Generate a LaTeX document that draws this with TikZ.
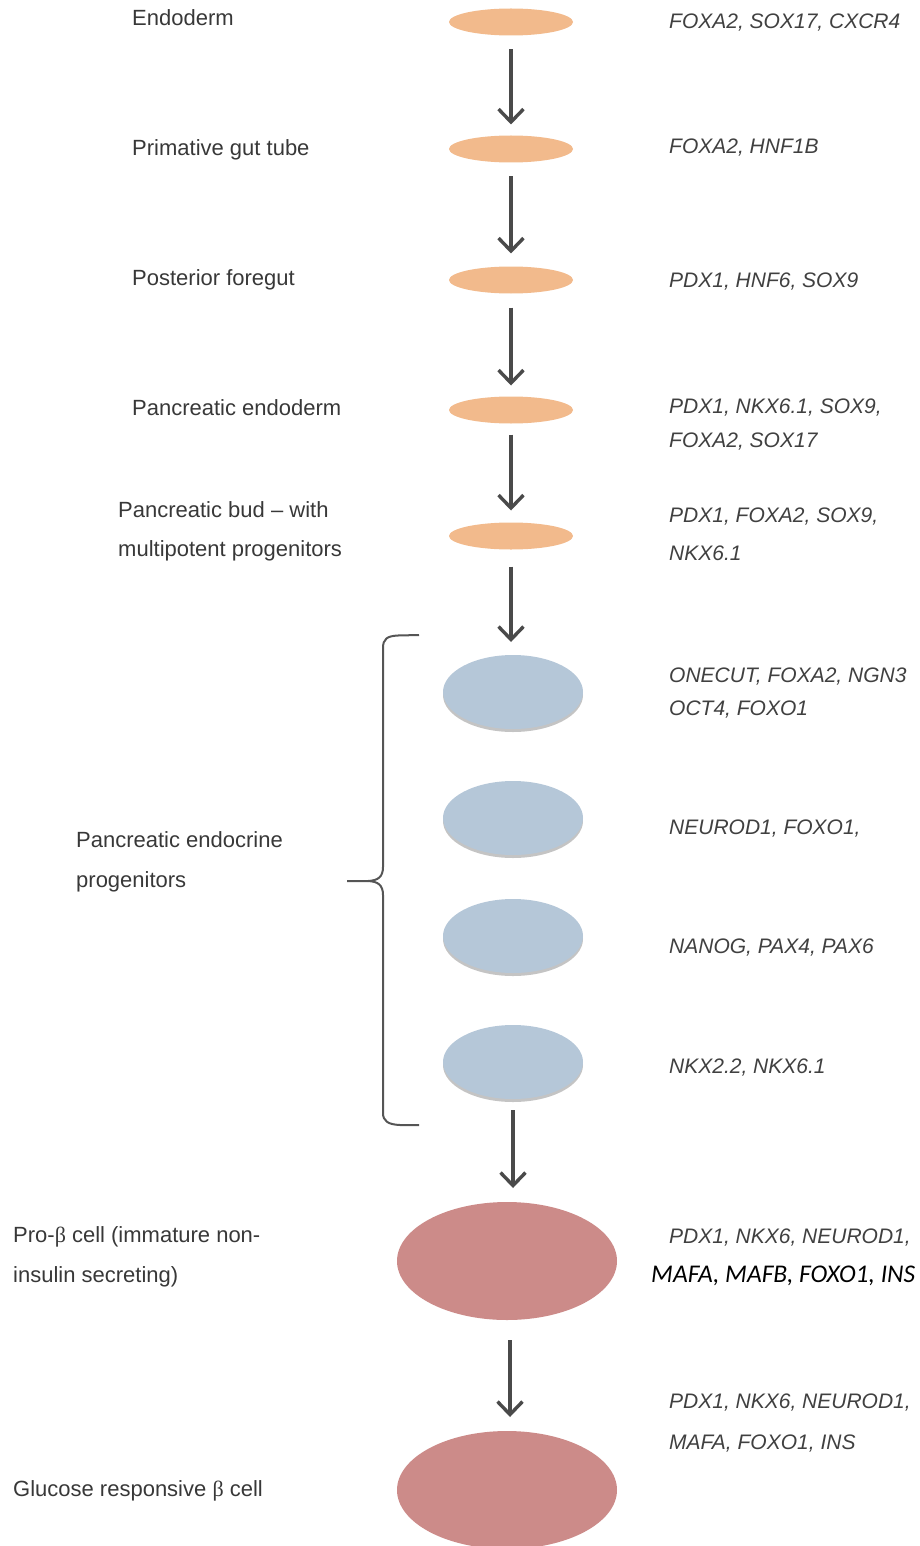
\documentclass[tikz,border=0pt]{standalone}
\usepackage{fontspec}
\setmainfont{Liberation Sans}
\newfontfamily\carl{Carlito}
\newfontfamily\betafont{Liberation Serif}
\usetikzlibrary{arrows.meta,shapes.geometric,shadows}
\definecolor{orangefill}{HTML}{F2BA8C}
\definecolor{bluefill}{HTML}{B5C7D8}
\definecolor{shadowgray}{HTML}{C4C4C4}
\definecolor{redfill}{HTML}{CC8B89}
\definecolor{textgray}{HTML}{383838}
\definecolor{genegray}{HTML}{404040}
\definecolor{arrowgray}{HTML}{4A4A4A}
\definecolor{bracketgray}{HTML}{555555}
\tikzset{
  cellbase/.style={ellipse, inner sep=0pt, outer sep=0pt},
  orangecell/.style={cellbase, fill=orangefill, minimum width=124pt, minimum height=27pt},
  bluecell/.style={cellbase, fill=bluefill, minimum width=140pt, minimum height=74pt,
    drop shadow={shadow xshift=0pt, shadow yshift=-3pt, fill=shadowgray, opacity=1}},
  redcell/.style={cellbase, fill=redfill, minimum width=220pt, minimum height=118pt},
  arr/.style={draw=arrowgray, line width=3.4pt, -{Straight Barb[length=13pt,width=25pt]}},
  lab/.style={anchor=base west, inner sep=0pt, text=textgray, font=\fontsize{22}{26}\selectfont},
  gene/.style={anchor=base west, inner sep=0pt, text=genegray, font=\fontsize{21}{25}\selectfont\itshape},
  genecal/.style={anchor=base west, inner sep=0pt, text=black, font=\carl\itshape\fontsize{25.5}{29}\selectfont},
  bracketline/.style={draw=bracketgray, line width=2pt}
}
\newcommand{\bet}{{\betafont β}}
\begin{document}
\begin{tikzpicture}[x=1pt,y=-1pt]
\useasboundingbox (0,0) rectangle (920,1546);
% cells
\node[orangecell] (e1) at (511,22) {};
\node[orangecell] (e2) at (511,149) {};
\node[orangecell] (e3) at (511,280) {};
\node[orangecell] (e4) at (511,410) {};
\node[orangecell] (e5) at (511,536) {};
\node[bluecell] (b1) at (513,692) {};
\node[bluecell] (b2) at (513,818) {};
\node[bluecell] (b3) at (513,936) {};
\node[bluecell] (b4) at (513,1062) {};
\node[redcell] (r1) at (507,1261) {};
\node[redcell] (r2) at (507,1490) {};
% arrows
\draw[arr] ([yshift=-14pt]e1.south) -- ([yshift=11pt]e2.north);
\draw[arr] ([yshift=-14pt]e2.south) -- ([yshift=13pt]e3.north);
\draw[arr] ([yshift=-14pt]e3.south) -- ([yshift=11pt]e4.north);
\draw[arr] ([yshift=-11pt]e4.south) -- ([yshift=12pt]e5.north);
\draw[arr] ([yshift=-17pt]e5.south) -- ([yshift=13pt]e5.south |- b1.north);
\draw[arr] ([yshift=-11pt]b4.south) -- ([yshift=14pt]b4.south |- r1.north);
\draw[arr] ([xshift=3pt,yshift=-20pt]r1.south) -- ([xshift=3pt,yshift=14pt]r2.north);
% bracket
\coordinate (brtop) at (419,635);
\coordinate (brtip) at (347,881);
\coordinate (brbot) at (419,1125);
\draw[bracketline] (brtop) -- (398,635.5) .. controls (387,636) and (383,639) .. (383,648)
  -- (383,867) .. controls (383,877) and (378,880.5) .. (368,881) -- (brtip);
\draw[bracketline] (368,881) .. controls (378,881.5) and (383,885) .. (383,895)
  -- (383,1113) .. controls (383,1121) and (388,1124.5) .. (400,1125) -- (brbot);
% left labels
\node[lab] (l1) at (132,26) {Endoderm};
\node[lab] (l2) at (132,156) {Primative gut tube};
\node[lab] (l3) at (132,285) {Posterior foregut};
\node[lab] (l4) at (132,415) {Pancreatic endoderm};
\node[lab] (l5a) at (118,517) {Pancreatic bud – with};
\node[lab] (l5b) at (118,556) {multipotent progenitors};
\node[lab] (l6a) at (76,847) {Pancreatic endocrine};
\node[lab] (l6b) at (76,887) {progenitors};
\node[lab] (l7a) at (13,1242) {Pro-\bet{} cell (immature non-};
\node[lab] (l7b) at (13,1282) {insulin secreting)};
\node[lab] (l8) at (13,1496) {Glucose responsive \bet{} cell};
% gene labels
\node[gene] (g1a) at (669,29) {FOXA2, SOX17, CXCR4};
\node[gene] (g2a) at (669,154) {FOXA2, HNF1B};
\node[gene] (g3a) at (669,287) {PDX1, HNF6, SOX9};
\node[gene] (g4a) at (669,413) {PDX1, NKX6.1, SOX9,};
\node[gene] (g4b) at (669,447) {FOXA2, SOX17};
\node[gene] (g5a) at (669,522) {PDX1, FOXA2, SOX9,};
\node[gene] (g5b) at (669,560) {NKX6.1};
\node[gene] (g6a) at (669,682) {ONECUT, FOXA2, NGN3};
\node[gene] (g6b) at (669,715) {OCT4, FOXO1};
\node[gene] (g7a) at (669,834) {NEUROD1, FOXO1,};
\node[gene] (g8a) at (669,953) {NANOG, PAX4, PAX6};
\node[gene] (g9a) at (669,1073) {NKX2.2, NKX6.1};
\node[gene] (g10a) at (669,1243) {PDX1, NKX6, NEUROD1,};
\node[genecal] (g10b) at (651,1282) {MAFA, MAFB, FOXO1, INS};
\node[gene] (g11a) at (669,1408) {PDX1, NKX6, NEUROD1,};
\node[gene] (g11b) at (669,1449) {MAFA, FOXO1, INS};
\end{tikzpicture}
\end{document}
